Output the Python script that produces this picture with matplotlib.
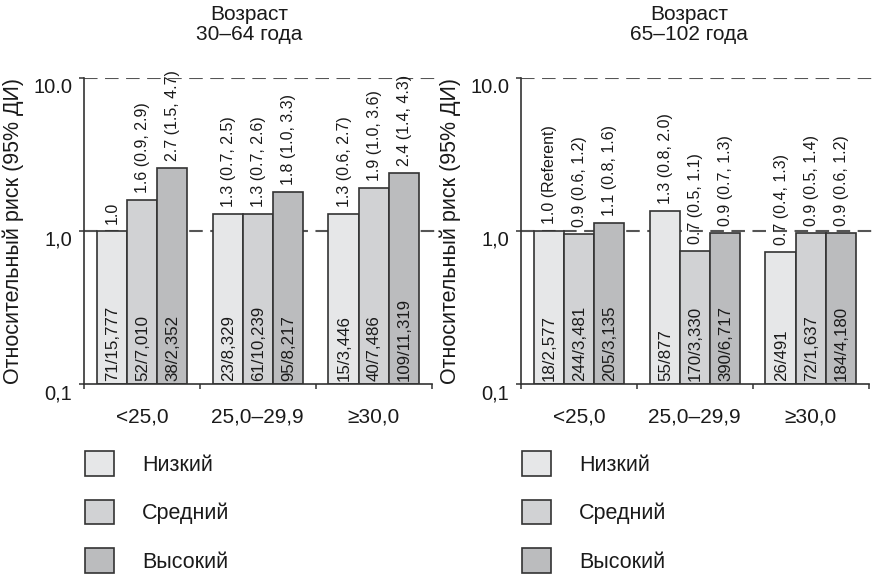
import matplotlib
matplotlib.use("Agg")
import matplotlib.pyplot as plt
from matplotlib.patches import Patch
import numpy as np

plt.rcParams['font.family'] = ['Liberation Sans', 'DejaVu Sans']

# ---------------- data ----------------
categories = ["<25,0", "25,0–29,9", "≥30,0"]
series = ["Низкий", "Средний", "Высокий"]
titles = [("Возраст", "30–64 года"), ("Возраст", "65–102 года")]

# bar heights (relative risk), [series][category]
rr_young = [[1.0, 1.3, 1.3],
            [1.6, 1.3, 1.9],
            [2.6, 1.8, 2.4]]
rr_old = [[1.0, 1.35, 0.73],
          [0.95, 0.74, 0.965],
          [1.13, 0.965, 0.965]]

top_young = [["1.0", "1.3 (0.7, 2.5)", "1.3 (0.6, 2.7)"],
             ["1.6 (0.9, 2.9)", "1.3 (0.7, 2.6)", "1.9 (1.0, 3.6)"],
             ["2.7 (1.5, 4.7)", "1.8 (1.0, 3.3)", "2.4 (1.4, 4.3)"]]
top_old = [["1.0 (Referent)", "1.3 (0.8, 2.0)", "0.7 (0.4, 1.3)"],
           ["0.9 (0.6, 1.2)", "0.7 (0.5, 1.1)", "0.9 (0.5, 1.4)"],
           ["1.1 (0.8, 1.6)", "0.9 (0.7, 1.3)", "0.9 (0.6, 1.2)"]]

bot_young = [["71/15,777", "23/8,329", "15/3,446"],
             ["52/7,010", "61/10,239", "40/7,486"],
             ["38/2,352", "95/8,217", "109/11,319"]]
bot_old = [["18/2,577", "55/877", "26/491"],
           ["244/3,481", "170/3,330", "72/1,637"],
           ["205/3,135", "390/6,717", "184/4,180"]]

yticks = [0.1, 1.0, 10.0]
ytick_labels = ["0,1", "1,0", "10.0"]
ylabel = "Относительный риск (95% ДИ)"

colors = ["#e6e7e8", "#d1d2d4", "#bbbcbe"]
edge = "#333333"
text_color = "#1a1a1a"
base = 0.1

# ---------------- figure ----------------
W, H = 872, 579
fig = plt.figure(figsize=(W / 100, H / 100), dpi=100)

def fx(px):
    return px / W

def fy(py):
    return 1 - py / H

ax_top, ax_bot = 78, 384
panels = [
    dict(left=84, rr=rr_young, top=top_young, bot=bot_young, title=titles[0], tx=249, lab=24),
    dict(left=521, rr=rr_old, top=top_old, bot=bot_old, title=titles[1], tx=689, lab=461),
]

bw = 0.26
for p in panels:
    ax = fig.add_axes([fx(p["left"]), fy(ax_bot), fx(351), (ax_bot - ax_top) / H])
    ax.set_yscale("log")
    ax.set_ylim(0.1, 10)
    ax.set_xlim(0, 3.03)
    for y in (1.0, 10.0):
        ax.axhline(y, color="#555555", lw=1.5, dashes=(6.5, 3.6), zorder=0.5)
    x = np.arange(len(categories)) + 0.5
    for i, s in enumerate(series):
        xs = x + (i - 1) * bw
        vals = np.array(p["rr"][i])
        ax.bar(xs, vals - base, width=bw, bottom=base, color=colors[i],
               edgecolor=edge, linewidth=1.2, zorder=2)
        for j in range(len(categories)):
            ax.annotate(p["top"][i][j], (xs[j], vals[j]), xytext=(0.5, 5),
                        textcoords="offset points", rotation=90, ha="center",
                        va="bottom", fontsize=11.5, color=text_color, zorder=3)
            ax.annotate(p["bot"][i][j], (xs[j], base), xytext=(0.5, 2),
                        textcoords="offset points", rotation=90, ha="center",
                        va="bottom", fontsize=12.2, color=text_color, zorder=3)
    for side in ("top", "right"):
        ax.spines[side].set_visible(False)
    for side in ("left", "bottom"):
        ax.spines[side].set_color(edge)
        ax.spines[side].set_linewidth(1.2)
    ax.spines["bottom"].set_bounds(0, 3)
    ax.set_yticks(yticks)
    ax.set_yticklabels(ytick_labels)
    ax.yaxis.set_minor_locator(matplotlib.ticker.NullLocator())
    for lab in ax.get_yticklabels():
        lab.set_va("top")
    ax.tick_params(axis="y", length=3.5, width=1.1, color=edge, pad=5,
                   labelsize=14.5, labelcolor=text_color)
    ax.set_xticks([0, 1, 2, 3])
    ax.set_xticklabels([])
    ax.set_xticks(x, minor=True)
    ax.set_xticklabels(categories, minor=True)
    ax.tick_params(axis="x", which="major", length=3.5, width=1.1, color=edge)
    ax.tick_params(axis="x", which="minor", length=0, pad=17, labelsize=15,
                   labelcolor=text_color)
    ax.set_ylabel(ylabel, fontsize=15.5, color=text_color)
    ax.yaxis.set_label_coords((p["lab"] - p["left"]) / 351, 0.5)
    # titles
    fig.text(fx(p["tx"]), fy(14), p["title"][0], ha="center", va="center",
             fontsize=15, color=text_color)
    fig.text(fx(p["tx"]), fy(35), p["title"][1], ha="center", va="center",
             fontsize=15, color=text_color)
    # legend
    handles = [Patch(facecolor=colors[i], edgecolor=edge, linewidth=1.2, label=s)
               for i, s in enumerate(series)]
    ax.legend(handles=handles, loc="upper left",
              bbox_to_anchor=(fx(p["left"] + 1), fy(451)), bbox_transform=fig.transFigure,
              frameon=False, fontsize=15.5, handlelength=1.35, handleheight=1.4,
              handletextpad=1.3, labelspacing=1.1, borderpad=0, borderaxespad=0,
              labelcolor=text_color)

fig.savefig("out.png", dpi=100)
